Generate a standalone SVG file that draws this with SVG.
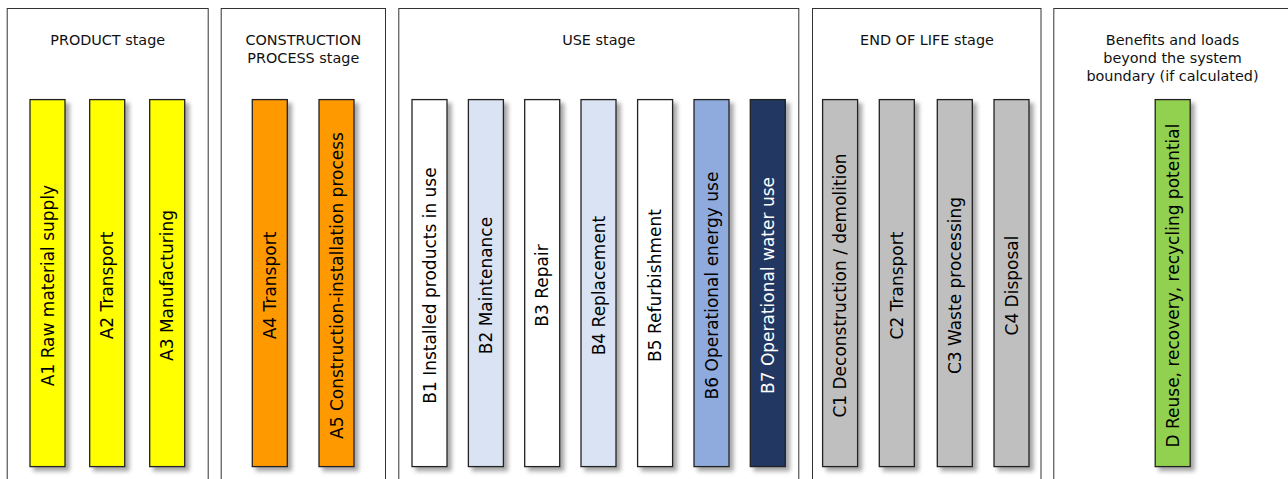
<svg xmlns="http://www.w3.org/2000/svg" width="1288" height="479" viewBox="0 0 1288 479">
<defs>
<filter id="sh" x="-30%" y="-10%" width="160%" height="120%">
<feDropShadow dx="4" dy="4" stdDeviation="2.2" flood-color="#000" flood-opacity="0.35"/>
</filter>
<style>
.panel{fill:#fff;stroke:#333;stroke-width:1}
.bar{stroke:#222;stroke-width:1.3;filter:url(#sh)}
.h{font-family:"DejaVu Sans",Verdana,sans-serif;font-size:14.4px;fill:#111;text-anchor:middle}
.t{font-family:"DejaVu Sans",Verdana,sans-serif;font-size:17px;fill:#000;text-anchor:middle}
.y{fill:#ffff00}.o{fill:#ff9900}.w{fill:#ffffff}.lb{fill:#dae3f3}.mb{fill:#8faadc}.db{fill:#203864}.g{fill:#bfbfbf}.gr{fill:#92d050}
</style>
</defs>
<g id="panel-product">
<rect class="panel" x="7.2" y="8.5" width="201" height="500"/>
<text class="h" x="107.7" y="45">PRODUCT stage</text>
</g>
<g id="panel-construction">
<rect class="panel" x="221.2" y="8.5" width="164.3" height="500"/>
<text class="h" x="303.3" y="45">CONSTRUCTION</text>
<text class="h" x="303.3" y="63">PROCESS stage</text>
</g>
<g id="panel-use">
<rect class="panel" x="398.8" y="8.5" width="400" height="500"/>
<text class="h" x="598.8" y="45">USE stage</text>
</g>
<g id="panel-eol">
<rect class="panel" x="812.5" y="8.5" width="228.5" height="500"/>
<text class="h" x="927" y="45">END OF LIFE stage</text>
</g>
<g id="panel-benefits">
<rect class="panel" x="1053.8" y="8.5" width="237" height="500"/>
<text class="h" x="1172.5" y="45">Benefits and loads</text>
<text class="h" x="1172.5" y="63">beyond the system</text>
<text class="h" x="1172.5" y="81">boundary (if calculated)</text>
</g>
<g id="A1"><rect class="bar y" x="30" y="99.6" width="35" height="367"/><text class="t" transform="translate(53.5,285.5) rotate(-90)">A1 Raw material supply</text></g>
<g id="A2"><rect class="bar y" x="89.7" y="99.6" width="35" height="367"/><text class="t" transform="translate(113.2,285.5) rotate(-90)">A2 Transport</text></g>
<g id="A3"><rect class="bar y" x="149.7" y="99.6" width="35" height="367"/><text class="t" transform="translate(173.2,285.5) rotate(-90)">A3 Manufacturing</text></g>
<g id="A4"><rect class="bar o" x="252.3" y="99.6" width="35" height="367"/><text class="t" transform="translate(275.8,285.5) rotate(-90)">A4 Transport</text></g>
<g id="A5"><rect class="bar o" x="319" y="99.6" width="35" height="367"/><text class="t" transform="translate(342.5,285.5) rotate(-90)">A5 Construction-installation process</text></g>
<g id="B1"><rect class="bar w" x="412" y="99.6" width="35" height="367"/><text class="t" transform="translate(435.5,285.5) rotate(-90)">B1 Installed products in use</text></g>
<g id="B2"><rect class="bar lb" x="468.4" y="99.6" width="35" height="367"/><text class="t" transform="translate(491.9,285.5) rotate(-90)">B2 Maintenance</text></g>
<g id="B3"><rect class="bar w" x="524.7" y="99.6" width="35" height="367"/><text class="t" transform="translate(548.2,285.5) rotate(-90)">B3 Repair</text></g>
<g id="B4"><rect class="bar lb" x="581" y="99.6" width="35" height="367"/><text class="t" transform="translate(604.5,285.5) rotate(-90)">B4 Replacement</text></g>
<g id="B5"><rect class="bar w" x="637.6" y="99.6" width="35" height="367"/><text class="t" transform="translate(661.1,285.5) rotate(-90)">B5 Refurbishment</text></g>
<g id="B6"><rect class="bar mb" x="694" y="99.6" width="35" height="367"/><text class="t" transform="translate(717.5,285.5) rotate(-90)">B6 Operational energy use</text></g>
<g id="B7"><rect class="bar db" x="750.3" y="99.6" width="35" height="367"/><text class="t" style="fill:#fff" transform="translate(773.8,285.5) rotate(-90)">B7 Operational water use</text></g>
<g id="C1"><rect class="bar g" x="822.6" y="99.6" width="35" height="367"/><text class="t" transform="translate(846.1,285.5) rotate(-90)">C1 Deconstruction / demolition</text></g>
<g id="C2"><rect class="bar g" x="879.3" y="99.6" width="35" height="367"/><text class="t" transform="translate(902.8,285.5) rotate(-90)">C2 Transport</text></g>
<g id="C3"><rect class="bar g" x="937.3" y="99.6" width="35" height="367"/><text class="t" transform="translate(960.8,285.5) rotate(-90)">C3 Waste processing</text></g>
<g id="C4"><rect class="bar g" x="994" y="99.6" width="35" height="367"/><text class="t" transform="translate(1017.5,285.5) rotate(-90)">C4 Disposal</text></g>
<g id="D"><rect class="bar gr" x="1155.2" y="99.6" width="35" height="367"/><text class="t" transform="translate(1178.7,285.5) rotate(-90)">D Reuse, recovery, recycling potential</text></g>
<g id="connectors"/>
</svg>
